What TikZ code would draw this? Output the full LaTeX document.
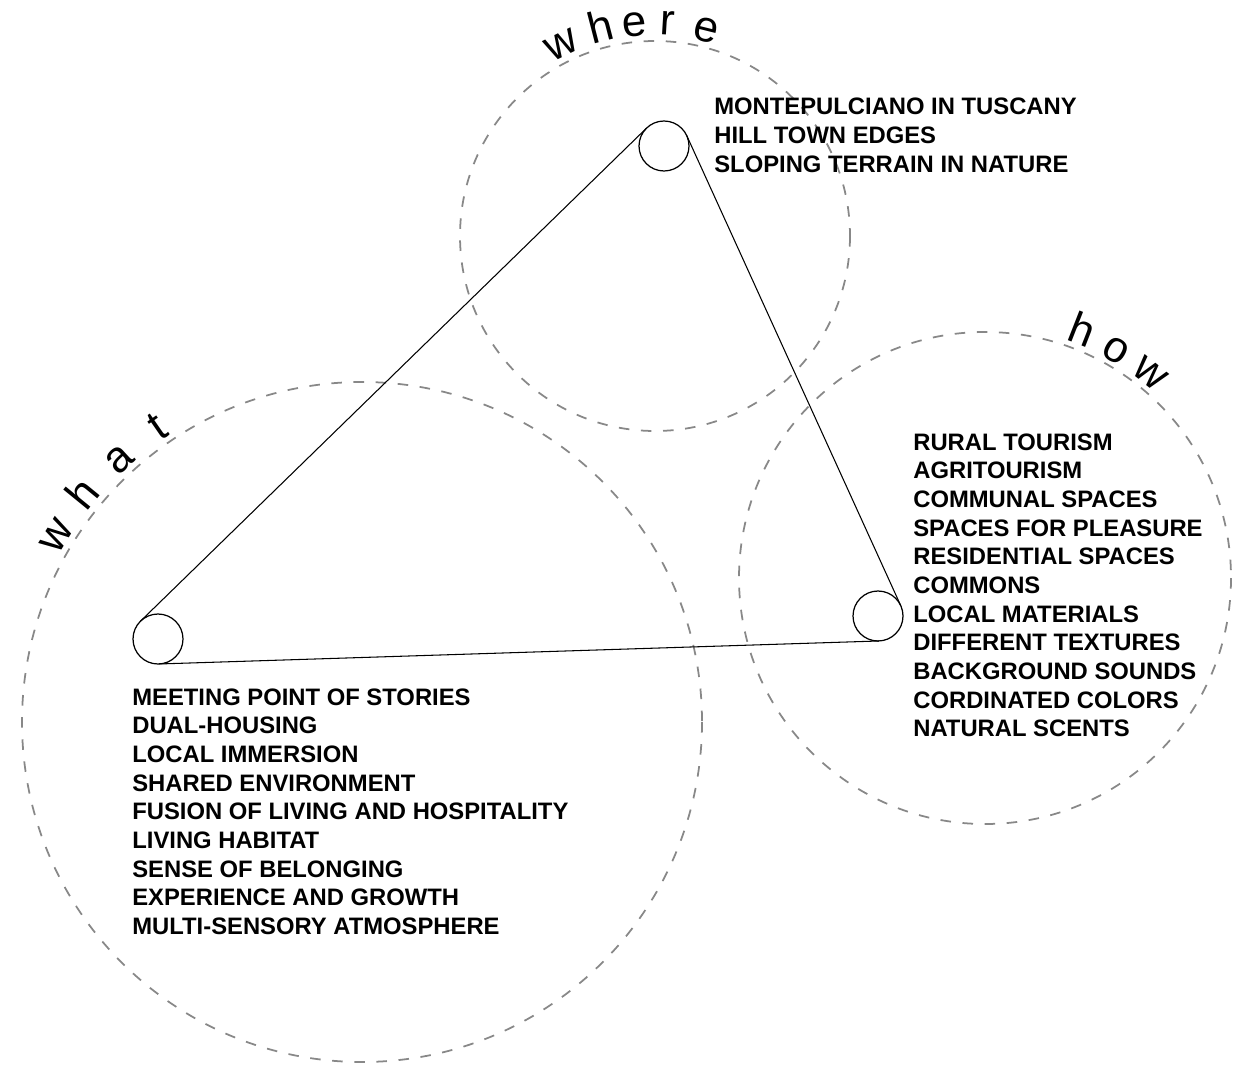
\documentclass[tikz,border=0pt]{standalone}
\usepackage{fontspec}
\setmainfont{Liberation Sans}
\usetikzlibrary{calc}
\definecolor{ringGray}{RGB}{136, 136, 136}

\tikzset{
  ring/.style={draw=ringGray,line width=1pt,dash pattern=on 6pt off 6.6pt},
  hub/.style={draw,circle,line width=0.7pt,minimum size=1cm,inner sep=0pt},
  edge/.style={line width=0.6pt},
  listtext/.style={align=left,inner sep=0pt,anchor=north west,
    font=\fontsize{13.55}{16.3}\selectfont\bfseries},
  ringlabel/.style={inner sep=0pt,anchor=base,font=\fontsize{25}{28}\selectfont}
}

\begin{document}
\begin{tikzpicture}[x=0.02cm,y=-0.02cm]
  \useasboundingbox (0,0) rectangle (1246,1067);

  % Dashed rings
  \coordinate (whereC) at (655,236);
  \coordinate (howC) at (985,578);
  \coordinate (whatC) at (362,722);
  \draw[ring] (whereC) circle[radius=195];
  \draw[ring] (howC) circle[radius=246];
  \draw[ring] (whatC) circle[radius=340];

  % Ring labels
  \foreach \ch/\ang in {w/116,h/104.5,e/95.5,r/86.5,e/76}
    \node[ringlabel,rotate=\ang-90] at ($(whereC)+(\ang:4.02cm)$) {\ch};
  \foreach \ch/\ang in {h/68.6,o/60,w/51}
    \node[ringlabel,rotate=\ang-90] at ($(howC)+(\ang:5.02cm)$) {\ch};
  \foreach \ch/\ang in {w/148.6,h/140.8,a/132.7,t/124.7}
    \node[ringlabel,rotate=\ang-90] at ($(whatC)+(\ang:6.92cm)$) {\ch};

  % Hubs
  \node[hub] (whereHub) at (664,146) {};
  \node[hub] (howHub) at (878,616) {};
  \node[hub] (whatHub) at (158,639) {};

  % Tangent edges
  \draw[edge] ($(whatHub.center)!0.5cm!90:(whereHub.center)$) -- ($(whereHub.center)!0.5cm!-90:(whatHub.center)$);
  \draw[edge] ($(whereHub.center)!0.5cm!90:(howHub.center)$) -- ($(howHub.center)!0.5cm!-90:(whereHub.center)$);
  \draw[edge] ($(howHub.center)!0.5cm!90:(whatHub.center)$) -- ($(whatHub.center)!0.5cm!-90:(howHub.center)$);

  % Lists
  \node[listtext] (whereList) at (714,97.8) {
    MONTEPULCIANO IN TUSCANY\\
    HILL TOWN EDGES\\
    SLOPING TERRAIN IN NATURE
  };
  \node[listtext] (howList) at (913,433.3) {
    RURAL TOURISM\\
    AGRITOURISM\\
    COMMUNAL SPACES\\
    SPACES FOR PLEASURE\\
    RESIDENTIAL SPACES\\
    COMMONS\\
    LOCAL MATERIALS\\
    DIFFERENT TEXTURES\\
    BACKGROUND SOUNDS\\
    CORDINATED COLORS\\
    NATURAL SCENTS
  };
  \node[listtext] (whatList) at (132,688.3) {
    MEETING POINT OF STORIES\\
    DUAL-HOUSING\\
    LOCAL IMMERSION\\
    SHARED ENVIRONMENT\\
    FUSION OF LIVING AND HOSPITALITY\\
    LIVING HABITAT\\
    SENSE OF BELONGING\\
    EXPERIENCE AND GROWTH\\
    MULTI-SENSORY ATMOSPHERE
  };
\end{tikzpicture}
\end{document}
